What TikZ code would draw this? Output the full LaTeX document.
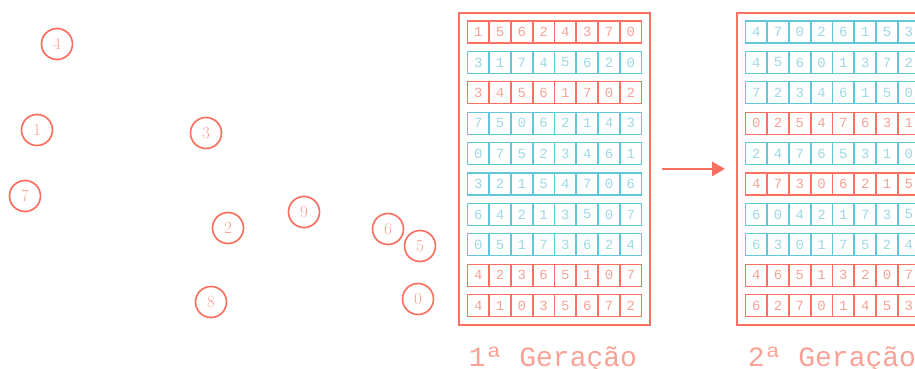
\documentclass[tikz,border=0pt]{standalone}
\usepackage{fontspec}
\newfontfamily\monof{Liberation Mono}
\usetikzlibrary{arrows.meta}
\definecolor{lineR}{RGB}{250,112,98}
\definecolor{textR}{RGB}{248,162,150}
\definecolor{lineB}{RGB}{96,198,218}
\definecolor{textB}{RGB}{158,216,230}
\tikzset{
  vertex/.style={circle, draw=lineR, line width=1.7pt, minimum size=31pt, inner sep=0pt,
    font=\fontsize{17}{17}\selectfont, text=textR},
  cell/.style={minimum width=21.2pt, minimum height=22pt, inner sep=0pt, line width=1.3pt,
    font=\monof\fontsize{14}{14}\selectfont},
  genbox/.style={draw=lineR, line width=1.8pt, minimum width=191pt, minimum height=312.5pt, inner sep=0pt},
  gentitle/.style={font=\monof\fontsize{28}{28}\selectfont, text=textR, anchor=base},
}
\begin{document}
\begin{tikzpicture}[x=1pt,y=-1pt]
\useasboundingbox (0,0) rectangle (915,369);
% scattered vertices
\node[vertex] (v4) at (57,44) {4};
\node[vertex] (v1) at (37,130) {1};
\node[vertex] (v3) at (206,133) {3};
\node[vertex] (v7) at (25,196) {7};
\node[vertex] (v2) at (228,228) {2};
\node[vertex] (v9) at (304,212) {9};
\node[vertex] (v6) at (388,229) {6};
\node[vertex] (v5) at (420,246) {5};
\node[vertex] (v8) at (211,302) {8};
\node[vertex] (v0) at (418,299) {0};
% generation boxes
\node[genbox] (box1) at (554.5,168.9) {};
\node[genbox] (box2) at (832.5,168.9) {};
% first generation
\foreach \r/\clr/\ds in {
  1/R/{1,5,6,2,4,3,7,0},
  2/B/{3,1,7,4,5,6,2,0},
  3/R/{3,4,5,6,1,7,0,2},
  4/B/{7,5,0,6,2,1,4,3},
  5/B/{0,7,5,2,3,4,6,1},
  6/B/{3,2,1,5,4,7,0,6},
  7/B/{6,4,2,1,3,5,0,7},
  8/B/{0,5,1,7,3,6,2,4},
  9/R/{4,2,3,6,5,1,0,7},
  10/R/{4,1,0,3,5,6,7,2}}{
  \foreach \d [count=\c] in \ds {
    \node[cell, draw=line\clr, text=text\clr] (a-\r-\c) at ({467.3+21.8*(\c-0.5)},{32+30.4*(\r-1)}) {\d};
  }
}
% second generation
\foreach \r/\clr/\ds in {
  1/B/{4,7,0,2,6,1,5,3},
  2/B/{4,5,6,0,1,3,7,2},
  3/B/{7,2,3,4,6,1,5,0},
  4/R/{0,2,5,4,7,6,3,1},
  5/B/{2,4,7,6,5,3,1,0},
  6/R/{4,7,3,0,6,2,1,5},
  7/B/{6,0,4,2,1,7,3,5},
  8/B/{6,3,0,1,7,5,2,4},
  9/R/{4,6,5,1,3,2,0,7},
  10/R/{6,2,7,0,1,4,5,3}}{
  \foreach \d [count=\c] in \ds {
    \node[cell, draw=line\clr, text=text\clr] (b-\r-\c) at ({745.3+21.8*(\c-0.5)},{32+30.4*(\r-1)}) {\d};
  }
}
% arrow
\draw[lineR, line width=2.8pt, -{Triangle[length=13pt,width=14pt]}, shorten <=11pt, shorten >=11pt]
  (box1.east) -- (box2.west);
% titles
\node[gentitle] (t1) at (553,366) {1ª Geração};
\node[gentitle] (t2) at (832,366) {2ª Geração};
\end{tikzpicture}
\end{document}
